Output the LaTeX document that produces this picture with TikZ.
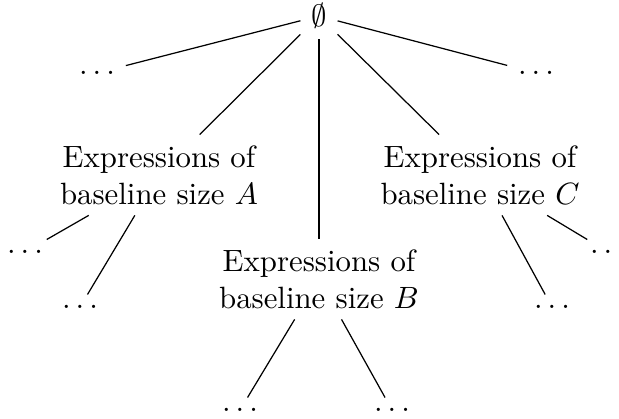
\documentclass[tikz,border=0pt]{standalone}
\begin{document}
\begin{tikzpicture}[x=0.3247pt,y=-0.3247pt,
  cat/.style={align=center},
  leaf/.style={},
  edge/.style={line width=0.4pt}]
\useasboundingbox (0,0) rectangle (619,419);
\node (r) at (319,16) {$\emptyset$};
\node[leaf] (l) at (97,73) {$\dots$};
\node[leaf] (rr) at (536,73) {$\dots$};
\node[cat] (a) at (159,175) {Expressions of\\baseline size $A$};
\node[cat] (b) at (319,279) {Expressions of\\baseline size $B$};
\node[cat] (c) at (480,175) {Expressions of\\baseline size $C$};
\node[leaf] (a1) at (25,252) {$\dots$};
\node[leaf] (a2) at (80,307) {$\dots$};
\node[leaf] (b1) at (240,410) {$\dots$};
\node[leaf] (b2) at (392,410) {$\dots$};
\node[leaf] (c1) at (552,307) {$\dots$};
\node[leaf] (c2) at (608,252) {$\dots$};
\draw[edge] (r) -- (l);
\draw[edge] (r) -- (a);
\draw[edge] (r) -- (b);
\draw[edge] (r) -- (c);
\draw[edge] (r) -- (rr);
\draw[edge] (a) -- (a1);
\draw[edge] (a) -- (a2);
\draw[edge] (b) -- (b1);
\draw[edge] (b) -- (b2);
\draw[edge] (c) -- (c1);
\draw[edge] (c) -- (c2);
\end{tikzpicture}
\end{document}
